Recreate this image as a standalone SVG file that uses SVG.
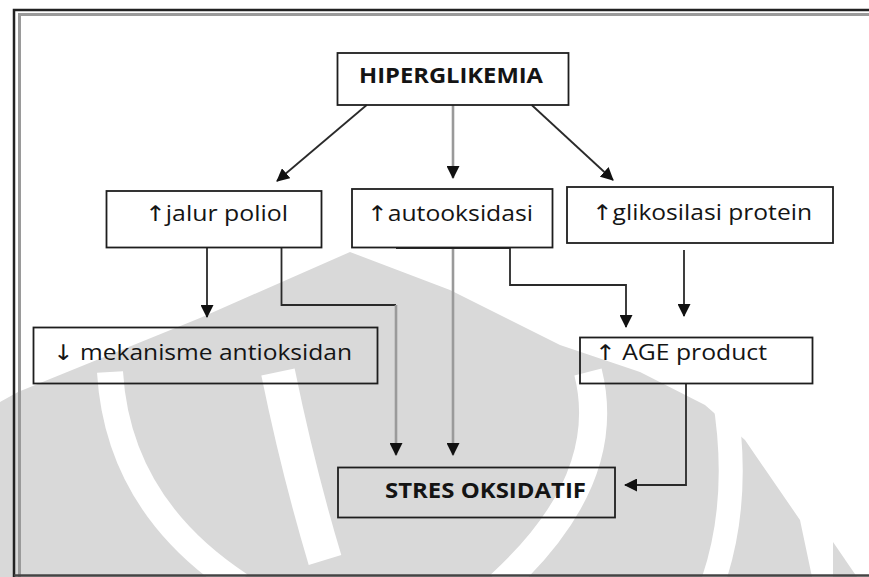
<svg xmlns="http://www.w3.org/2000/svg" width="869" height="577" viewBox="0 0 869 577">
<style>
.box{fill:none;stroke:#1e1e1e;stroke-width:1.8}
.lbl{font-family:"Open Sans","Liberation Sans",sans-serif;font-size:21.5px;fill:#141414}
.bold{font-weight:bold;font-size:22px}
.arr{font-family:"DejaVu Sans",sans-serif;font-weight:normal}
.con{fill:none;stroke:#2a2a2a;stroke-width:1.8}
.gcon{fill:none;stroke:#9a9a9a;stroke-width:2.6}
.wm{fill:#d9d9d9}
.wmw{fill:none;stroke:#ffffff}
</style>
<defs>
<marker id="ah" markerUnits="userSpaceOnUse" markerWidth="13" markerHeight="13" refX="12" refY="6.5" orient="auto">
<path d="M0,0 L13,6.5 L0,13 Z" fill="#111"/>
</marker>
</defs>
<rect x="0" y="0" width="869" height="577" fill="#ffffff"/>
<g id="watermark">
<path class="wm" d="M0,402 L18,392 L200,318 L350,252 L450,290 L560,345 L640,372 L705,405 L745,440 L800,520 L812,577 L0,577 Z"/>
<path class="wm" d="M833,542 L857,577 L833,577 Z"/>
<path class="wmw" stroke-width="26" d="M110,372 Q118,505 240,585"/>
<path class="wmw" stroke-width="34" d="M278,372 Q298,470 325,560"/>
<path class="wmw" stroke-width="28" d="M588,372 Q615,480 500,585"/>
<path class="wmw" stroke-width="24" d="M724,395 Q742,500 712,585"/>
</g>
<g id="border" fill="none">
<path d="M14,577 V10 H869" stroke="#222" stroke-width="2.5"/>
<path d="M19.5,577 V14.5 H869" stroke="#9a9a9a" stroke-width="3"/>
<path d="M14,575.5 H869" stroke="#444" stroke-width="2.5"/>
</g>
<g id="connectors">
<path class="con" d="M366.7,105 L277,181" marker-end="url(#ah)"/>
<path class="gcon" d="M453,105 V178" marker-end="url(#ah)"/>
<path class="con" d="M531.7,105 L613,180" marker-end="url(#ah)"/>
<path class="con" stroke="#555" d="M207,248 V317" marker-end="url(#ah)"/>
<path class="con" d="M281.5,248 V305 H396"/>
<path class="gcon" stroke="#888" d="M396,305 V455" marker-end="url(#ah)"/>
<path class="gcon" d="M453,248 V455" marker-end="url(#ah)"/>
<path class="con" d="M396,248 H510 V285 H626 V327" marker-end="url(#ah)"/>
<path class="con" stroke="#555" d="M684,250 V316" marker-end="url(#ah)"/>
<path class="con" stroke="#555" d="M686,384 V485 H625" marker-end="url(#ah)"/>
</g>
<g id="hiperglikemia">
<rect class="box" x="337.5" y="53" width="231" height="52"/>
<text class="lbl bold" x="359" y="83" textLength="184" lengthAdjust="spacingAndGlyphs">HIPERGLIKEMIA</text>
</g>
<g id="jalur-poliol">
<rect class="box" x="106.5" y="191" width="215" height="56.5"/>
<text class="lbl" x="145" y="221" textLength="143" lengthAdjust="spacingAndGlyphs"><tspan class="arr">↑</tspan>jalur poliol</text>
</g>
<g id="autooksidasi">
<rect class="box" x="352" y="189" width="200.5" height="58.5"/>
<text class="lbl" x="367" y="221" textLength="166" lengthAdjust="spacingAndGlyphs"><tspan class="arr">↑</tspan>autooksidasi</text>
</g>
<g id="glikosilasi-protein">
<rect class="box" x="567" y="187" width="266" height="56"/>
<text class="lbl" x="592" y="220" textLength="220" lengthAdjust="spacingAndGlyphs"><tspan class="arr">↑</tspan>glikosilasi protein</text>
</g>
<g id="mekanisme-antioksidan">
<rect class="box" x="33.5" y="327.5" width="344" height="56"/>
<text class="lbl" x="53" y="360" textLength="299" lengthAdjust="spacingAndGlyphs"><tspan class="arr">↓</tspan> mekanisme antioksidan</text>
</g>
<g id="age-product">
<rect class="box" x="580" y="337.5" width="232.5" height="46"/>
<text class="lbl" x="595" y="360" textLength="172" lengthAdjust="spacingAndGlyphs"><tspan class="arr">↑</tspan> AGE product</text>
</g>
<g id="stres-oksidatif">
<rect class="box" x="338" y="467.5" width="277" height="50"/>
<text class="lbl bold" x="385" y="498" textLength="201" lengthAdjust="spacingAndGlyphs">STRES OKSIDATIF</text>
</g>
</svg>
